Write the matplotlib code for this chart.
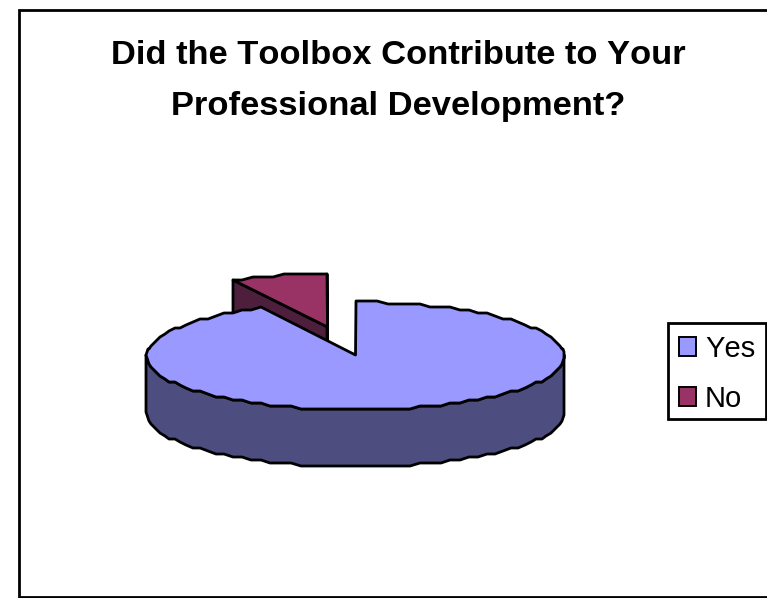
import numpy as np
import matplotlib
matplotlib.use("Agg")
import matplotlib.pyplot as plt
from matplotlib.patches import Polygon, Rectangle, Patch

plt.rcParams['font.family'] = ['Liberation Sans', 'DejaVu Sans']
plt.rcParams['text.kerning_factor'] = 6

labels = ['Yes', 'No']
shares = [92.5, 7.5]
title_lines = ['Did the Toolbox Contribute to Your', 'Professional Development?']

top_colors = ['#9999FF', '#993366']
side_colors = ['#4D4D80', '#4D1F3D']

# pie geometry in pixels
cx, cy = 355.5, 355
rx, ry = 209, 54
depth = 57
shift = (-28, -28)


def rim(start, end, ox=0, oy=0, step=3):
    # clockwise from north; y snapped to a coarse grid for the stepped outline
    n = max(2, int(abs(end - start) / step) + 1)
    a = np.radians(np.linspace(start, end, n))
    x = cx + ox + rx * np.sin(a)
    y = cy + oy - ry * np.cos(a)
    return np.column_stack([np.round(x), np.round(y / 3) * 3 + 1])


yes_angle = 360 * shares[0] / sum(shares)

fig = plt.figure(figsize=(7.67, 5.98), dpi=100)
ax = fig.add_axes([0, 0, 1, 1])
ax.set_xlim(0, 767)
ax.set_ylim(598, 0)
ax.axis('off')

ax.add_patch(Rectangle((18.5, 9.5), 800, 587.5, fc='white', ec='black', lw=2))

line = dict(ec='black', lw=2, joinstyle='round')

# exploded slice goes first, the big one sits in front of it
apex = np.array([cx + shift[0], cy + shift[1]])
no_rim = rim(yes_angle, 360, *shift)
wall = np.array([apex, no_rim[0], no_rim[0] + [0, depth], apex + [0, depth]])
ax.add_patch(Polygon(wall, fc=side_colors[1], **line))
wall2 = np.array([apex, no_rim[-1], no_rim[-1] + [0, depth], apex + [0, depth]])
ax.add_patch(Polygon(wall2, fc=side_colors[1], **line))
ax.add_patch(Polygon(np.vstack([[apex], no_rim]), fc=top_colors[1], **line))

# big slice: outer wall, then top face
front = rim(90, 270)
ax.add_patch(Polygon(np.vstack([front, rim(270, 90, 0, depth)]), fc=side_colors[0], **line))
ax.add_patch(Polygon(np.vstack([[[cx, cy]], rim(0, yes_angle)]), fc=top_colors[0], **line))

ax.text(398.5, 56, title_lines[0], ha='center', va='center', fontsize=24.8, fontweight='bold')
ax.text(398.5, 106, title_lines[1], ha='center', va='center', fontsize=24.8, fontweight='bold')

# legend box is a separate rectangle so the rows can sit low inside it
ax.add_patch(Rectangle((667.5, 322.5), 98, 96, fc='white', ec='black', lw=2))
handles = [Patch(fc=c, ec='black', lw=1.4) for c in top_colors]
ax.legend(handles, labels, loc='upper left', bbox_to_anchor=(679 / 767, 1 - 335 / 598),
          fontsize=21, frameon=False, handlelength=0.58, handleheight=0.62,
          handletextpad=0.31, labelspacing=0.76, borderpad=0, borderaxespad=0)

fig.savefig('out.png', dpi=100)
